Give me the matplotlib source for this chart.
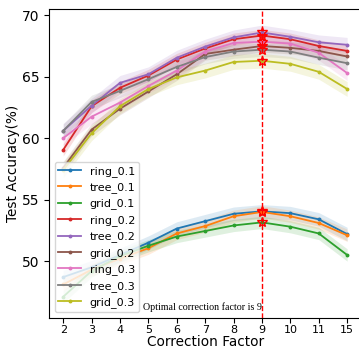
import numpy as np
import matplotlib
matplotlib.use('Agg')
import matplotlib.pyplot as plt

# Correction factors (shown as evenly spaced categories)
factors = ['2', '3', '4', '5', '6', '7', '8', '9', '10', '11', '15']
best_factor = '9'

names = ['ring_0.1', 'tree_0.1', 'grid_0.1',
         'ring_0.2', 'tree_0.2', 'grid_0.2',
         'ring_0.3', 'tree_0.3', 'grid_0.3']

ring_01 = [48.7, 49.5, 50.5, 51.5, 52.65, 53.25, 53.85, 54.05, 53.9, 53.4, 52.2]
tree_01 = [48.1, 49.3, 50.2, 51.05, 52.25, 52.85, 53.65, 54.0, 53.65, 53.1, 52.1]
grid_01 = [47.1, 49.2, 50.4, 51.25, 52.0, 52.45, 52.9, 53.15, 52.8, 52.25, 50.5]
ring_02 = [59.05, 62.6, 64.1, 65.1, 66.4, 67.3, 68.05, 68.35, 68.05, 67.5, 67.1]
tree_02 = [60.6, 62.65, 64.5, 65.2, 66.55, 67.45, 68.2, 68.6, 68.25, 67.8, 67.6]
grid_02 = [57.6, 60.7, 62.4, 63.8, 65.2, 66.85, 67.2, 67.5, 67.35, 67.1, 66.65]
ring_03 = [60.0, 61.75, 62.9, 64.25, 65.5, 67.05, 67.75, 67.85, 67.7, 66.95, 65.3]
tree_03 = [60.6, 62.95, 63.85, 64.8, 65.8, 66.6, 67.05, 67.2, 67.05, 66.55, 66.1]
grid_03 = [57.4, 60.4, 62.6, 64.0, 64.95, 65.5, 66.2, 66.3, 66.05, 65.4, 64.0]

# band half-widths (std) for each series
spread = [0.55, 0.5, 0.5, 0.5, 0.6, 0.5, 0.6, 0.55, 0.6]

series = [ring_01, tree_01, grid_01, ring_02, tree_02, grid_02, ring_03, tree_03, grid_03]
colors = ['tab:blue', 'tab:orange', 'tab:green', 'tab:red', 'tab:purple',
          'tab:brown', 'tab:pink', 'tab:gray', 'tab:olive']

fig = plt.figure(figsize=(3.59, 3.51), dpi=100)
ax = fig.add_axes([0.1365, 0.095, 0.87, 0.879])

x = np.arange(len(factors))
best = factors.index(best_factor)

for vals, sd, c, name in zip(series, spread, colors, names):
    vals = np.array(vals)
    ax.plot(x, vals, color=c, marker='o', markersize=1.8, linewidth=1.3, label=name)
    ax.fill_between(x, vals - sd, vals + sd, color=c, alpha=0.15, linewidth=0)
    ax.plot(x[best], vals[best], marker='*', markersize=7, color='red',
            markerfacecolor='none', markeredgewidth=1)

ax.axvline(best, color='red', linestyle='--', linewidth=1)

ax.text(best, 45.9, 'Optimal correction factor is 9', ha='right', va='bottom',
        fontsize=7.2, family='Liberation Serif')

ax.set_xticks(x)
ax.set_xticklabels(factors, fontsize=8)
ax.set_xlim(-0.5, 10.5)
ax.set_ylim(45.4, 70.5)
ax.set_yticks([50, 55, 60, 65, 70])
ax.tick_params(axis='y', labelsize=10)
ax.tick_params(axis='x', pad=1.5)
ax.set_xlabel('Correction Factor', fontsize=9.8, labelpad=0.5)
ax.set_ylabel('Test Accuracy(%)', fontsize=9.8, labelpad=1.5)

ax.legend(loc='lower left', fontsize=8, handlelength=2, borderpad=0.35,
          labelspacing=0.5)

fig.savefig('out.png', dpi=100)
